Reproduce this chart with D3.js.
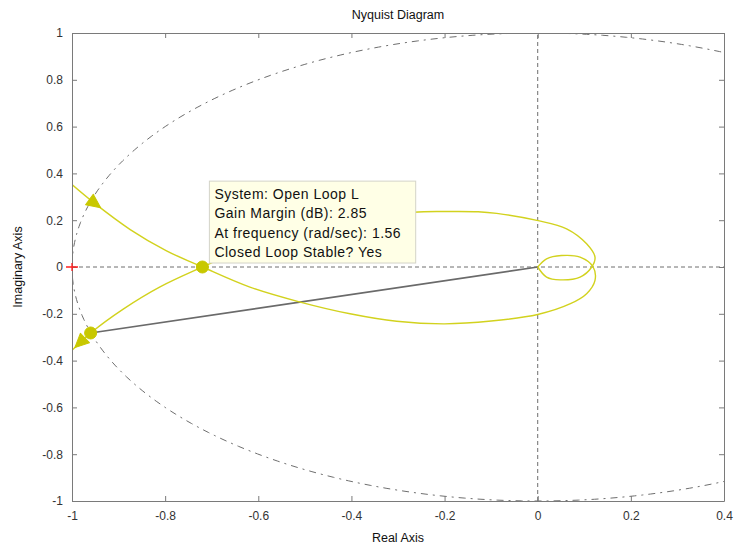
<!DOCTYPE html>
<html>
<head>
<meta charset="utf-8">
<script src="https://cdn.jsdelivr.net/npm/d3@7"></script>
<style>
  html, body { margin: 0; padding: 0; background: #ffffff; }
  svg { display: block; font-family: "Liberation Sans", Arial, sans-serif; }
</style>
</head>
<body>
<svg id="chart" width="734" height="548"></svg>
<script>
// ---------------- data ----------------
const titleText = "Nyquist Diagram";
const xLabel = "Real Axis";
const yLabel = "Imaginary Axis";
const xTicks = [-1, -0.8, -0.6, -0.4, -0.2, 0, 0.2, 0.4];
const xTickLabels = ["-1", "-0.8", "-0.6", "-0.4", "-0.2", "0", "0.2", "0.4"];
const yTicks = [-1, -0.8, -0.6, -0.4, -0.2, 0, 0.2, 0.4, 0.6, 0.8, 1];
const yTickLabels = ["-1", "-0.8", "-0.6", "-0.4", "-0.2", "0", "0.2", "0.4", "0.6", "0.8", "1"];

// branch starting upper-left, crossing at -0.72, lower arc, upper half of small loop to origin
const branch1Re = [-1.000, -0.954, -0.875, -0.797, -0.720, -0.618, -0.510, -0.403, -0.303, -0.200, -0.100, 0.000, 0.069, 0.105, 0.123, 0.119, 0.091, 0.051, 0.019, 0.000];
const branch1Im = [ 0.352,  0.276,  0.160,  0.069,  0.000, -0.086, -0.150, -0.200, -0.232, -0.243, -0.231, -0.203, -0.158, -0.114, -0.057, 0.000, 0.042, 0.049, 0.035, 0.000];
// branch starting lower-left, crossing at -0.72, upper arc (partly behind the datatip), lower half of small loop
const branch2Re = [-1.000, -0.980, -0.960, -0.890, -0.811, -0.720, -0.620, -0.510, -0.400, -0.267, -0.200, -0.128, -0.088, 0.001, 0.062, 0.105, 0.123, 0.116, 0.091, 0.048, 0.019, 0.000];
const branch2Im = [-0.356, -0.318, -0.282, -0.180, -0.085,  0.000,  0.086,  0.150,  0.200,  0.234,  0.237,  0.236,  0.229, 0.198, 0.163, 0.099, 0.042, 0.000, -0.043, -0.055, -0.043, 0.000];

// direction arrows: [branch, index, neighbour index it points to]
const arrowBranch = [1, 2];
const arrowIndex = [1, 1];
const arrowToward = [2, 0];

// stability margin markers
const gainMarginRe = -0.720, gainMarginIm = 0.000;
const phaseMarginRe = -0.960, phaseMarginIm = -0.282;
const criticalRe = -1, criticalIm = 0;

const tipLines = ["System: Open Loop L", "Gain Margin (dB): 2.85", "At frequency (rad/sec): 1.56", "Closed Loop Stable? Yes"];

// ---------------- drawing ----------------
const svg = d3.select("#chart");
const W = 734, H = 548;
const margin = {left: 72, right: 10, top: 33, bottom: 47};
const x = d3.scaleLinear().domain([-1, 0.4]).range([margin.left, W - margin.right]);
const y = d3.scaleLinear().domain([-1, 1]).range([H - margin.bottom, margin.top]);

const axisColor = "#7a7a7a";
const textColor = "#333333";
const curveColor = "#d2d21e";
const markerColor = "#c8c800";

svg.append("defs").append("clipPath").attr("id", "plotclip")
  .append("rect").attr("x", x(-1)).attr("y", y(1))
  .attr("width", x(0.4) - x(-1)).attr("height", y(-1) - y(1));

const plot = svg.append("g").attr("clip-path", "url(#plotclip)");

// zero lines
plot.append("line").attr("x1", x(-1)).attr("x2", x(0.4)).attr("y1", y(0)).attr("y2", y(0))
  .attr("stroke", "#6e6e6e").attr("stroke-width", 1).attr("stroke-dasharray", "4,3");
plot.append("line").attr("x1", x(0)).attr("x2", x(0)).attr("y1", y(-1)).attr("y2", y(1))
  .attr("stroke", "#6e6e6e").attr("stroke-width", 1).attr("stroke-dasharray", "4,3");

// unit circle
const circPts = d3.range(0, 361, 1).map(a => [Math.cos(a * Math.PI / 180), Math.sin(a * Math.PI / 180)]);
plot.append("path")
  .attr("d", d3.line().x(d => x(d[0])).y(d => y(d[1]))(circPts))
  .attr("fill", "none").attr("stroke", "#6e6e6e").attr("stroke-width", 1)
  .attr("stroke-dasharray", "7,5,2,5");

// phase margin line
plot.append("line").attr("x1", x(0)).attr("y1", y(0)).attr("x2", x(phaseMarginRe)).attr("y2", y(phaseMarginIm))
  .attr("stroke", "#6a6a6a").attr("stroke-width", 1.6);

// nyquist branches
const lineGen = d3.line().x(d => x(d[0])).y(d => y(d[1])).curve(d3.curveCatmullRom.alpha(0.5));
const b1 = branch1Re.map((r, i) => [r, branch1Im[i]]);
const b2 = branch2Re.map((r, i) => [r, branch2Im[i]]);
[b1, b2].forEach(b => {
  plot.append("path").attr("d", lineGen(b)).attr("fill", "none")
    .attr("stroke", curveColor).attr("stroke-width", 1.4);
});

// arrows (isosceles arrow heads pointing along the curve)
arrowBranch.forEach((bi, k) => {
  const b = bi === 1 ? b1 : b2;
  const p = b[arrowIndex[k]], q = b[arrowToward[k]];
  const ang = Math.atan2(y(q[1]) - y(p[1]), x(q[0]) - x(p[0])) * 180 / Math.PI;
  plot.append("path").attr("d", "M9,0L-5,-6.5L-5,6.5Z")
    .attr("transform", `translate(${x(p[0])},${y(p[1])}) rotate(${ang})`)
    .attr("fill", markerColor).attr("stroke", markerColor).attr("stroke-width", 1)
    .attr("stroke-linejoin", "round");
});

// margin markers
[[gainMarginRe, gainMarginIm], [phaseMarginRe, phaseMarginIm]].forEach(m => {
  plot.append("circle").attr("cx", x(m[0])).attr("cy", y(m[1])).attr("r", 6)
    .attr("fill", markerColor).attr("stroke", markerColor);
});

// axes
const fmtX = d => xTickLabels[xTicks.indexOf(d)];
const fmtY = d => yTickLabels[yTicks.indexOf(d)];
function styleAxis(g) {
  g.select(".domain").attr("stroke", axisColor);
  g.selectAll(".tick line").attr("stroke", axisColor);
  g.selectAll(".tick text").attr("fill", textColor).style("font-size", "12px")
    .style("font-family", '"Liberation Sans", Arial, sans-serif');
}
svg.append("g").attr("transform", `translate(0,${y(-1)})`)
  .call(d3.axisBottom(x).tickValues(xTicks).tickFormat(fmtX).tickSizeInner(-5).tickSizeOuter(0).tickPadding(10))
  .call(styleAxis);
svg.append("g").attr("transform", `translate(0,${y(1)})`)
  .call(d3.axisTop(x).tickValues(xTicks).tickFormat("").tickSizeInner(-5).tickSizeOuter(0))
  .call(styleAxis);
svg.append("g").attr("transform", `translate(${x(-1)},0)`)
  .call(d3.axisLeft(y).tickValues(yTicks).tickFormat(fmtY).tickSizeInner(-5).tickSizeOuter(0).tickPadding(9))
  .call(styleAxis);
svg.append("g").attr("transform", `translate(${x(0.4)},0)`)
  .call(d3.axisRight(y).tickValues(yTicks).tickFormat("").tickSizeInner(-5).tickSizeOuter(0))
  .call(styleAxis);

// critical point
svg.append("path")
  .attr("d", `M${x(criticalRe) - 6},${y(criticalIm)}H${x(criticalRe) + 6}M${x(criticalRe)},${y(criticalIm) - 4}V${y(criticalIm) + 4}`)
  .attr("stroke", "#ff2020").attr("stroke-width", 1.3);

// datatip
const tip = svg.append("g");
const tx0 = x(-0.705), ty0 = y(0.367), tx1 = x(-0.262), ty1 = y(0.017);
tip.append("rect").attr("x", tx0).attr("y", ty0).attr("width", tx1 - tx0).attr("height", ty1 - ty0)
  .attr("fill", "#ffffe6").attr("stroke", "#d4d4c8").attr("stroke-width", 1);
tip.selectAll("text").data(tipLines).join("text")
  .attr("x", tx0 + 5).attr("y", (d, i) => ty0 + 18 + i * 19.2)
  .attr("fill", "#111").style("font-size", "14px").style("letter-spacing", "0.5px")
  .text(d => d);

// titles
svg.append("text").attr("x", (x(-1) + x(0.4)) / 2).attr("y", 19).attr("text-anchor", "middle")
  .attr("fill", "#111").style("font-size", "12.5px").text(titleText);
svg.append("text").attr("x", (x(-1) + x(0.4)) / 2).attr("y", 542).attr("text-anchor", "middle")
  .attr("fill", "#111").style("font-size", "12.5px").text(xLabel);
svg.append("text").attr("transform", `translate(22,${y(0)}) rotate(-90)`).attr("text-anchor", "middle")
  .attr("fill", "#111").style("font-size", "12.5px").text(yLabel);
</script>
</body>
</html>
